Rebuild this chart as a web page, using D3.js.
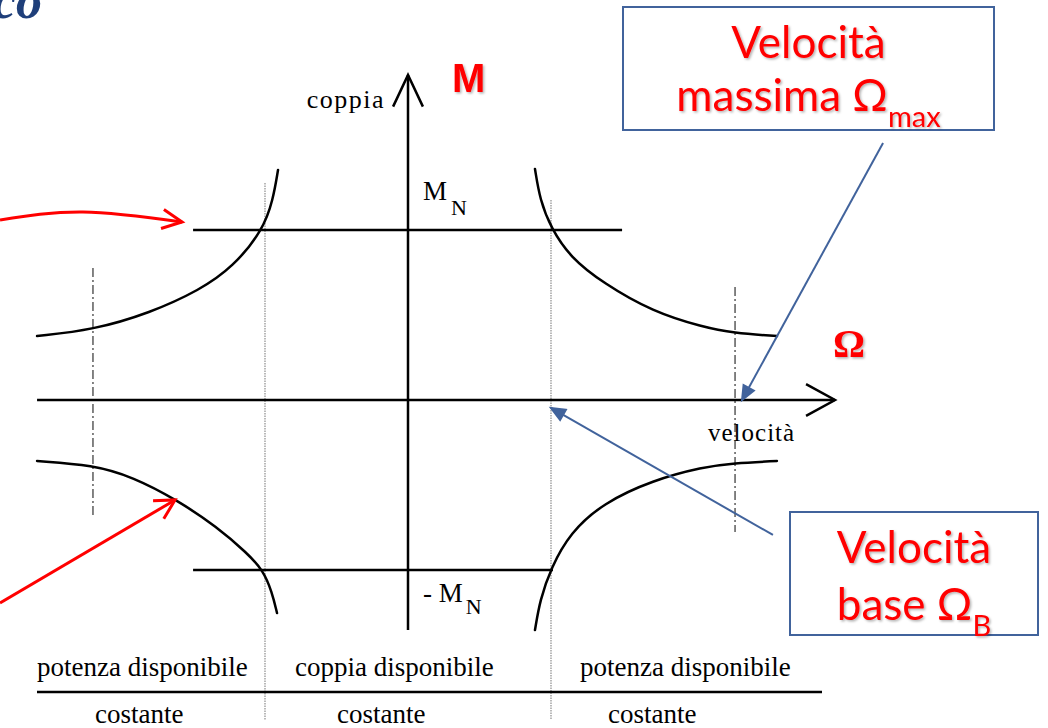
<!DOCTYPE html>
<html>
<head>
<meta charset="utf-8">
<script src="https://cdn.jsdelivr.net/npm/d3@7"></script>
<style>
  html, body { margin: 0; padding: 0; background: #fff; }
  svg { display: block; }
</style>
</head>
<body>
<svg id="chart" width="1048" height="728"></svg>
<script>
// speed (Omega) in units of the base speed, torque (M) in units of M_N
const curveUpperRight = [[0.888, 1.359], [0.923, 1.176], [1.0, 1.012], [1.133, 0.841], [1.364, 0.688], [1.713, 0.518], [2.063, 0.429], [2.273, 0.394], [2.58, 0.376]];
const curveUpperLeft = [[-2.594, 0.376], [-2.203, 0.412], [-1.804, 0.512], [-1.455, 0.647], [-1.224, 0.782], [-1.014, 1.0], [-0.944, 1.176], [-0.909, 1.353]];
const curveLowerLeft = [[-2.594, -0.359], [-2.203, -0.382], [-1.923, -0.453], [-1.615, -0.588], [-1.336, -0.747], [-1.126, -0.9], [-1.014, -1.0], [-0.951, -1.129], [-0.916, -1.253]];
const curveLowerRight = [[0.888, -1.353], [0.923, -1.176], [1.0, -0.988], [1.133, -0.782], [1.364, -0.606], [1.713, -0.471], [2.063, -0.394], [2.273, -0.371], [2.58, -0.359]];

const ratedTorque = [1, -1];
const ratedSpanPos = [-1.503, 1.497];
const ratedSpanNeg = [-1.503, 1.014];

const omegaAxis = [-2.594, 2.986];
const torqueAxis = [-1.353, 1.912];

const baseSpeeds = [-1, 1];
const baseSpans = [[1.276, -1.882], [1.176, -1.882]];
const maxSpeeds = [-2.203, 2.287];
const maxSpans = [[0.776, -0.676], [0.665, -0.776]];

const redArrowTop = [[-2.853, 1.059], [-2.273, 1.106], [-1.58, 1.047]];
const redArrowBottom = [[-2.853, -1.194], [-1.629, -0.588]];
const blueArrowMax = [[3.322, 1.512], [2.336, 0]];
const blueArrowBase = [[2.552, -0.794], [1.0, -0.047]];

const regionTop = ["potenza disponibile", "coppia disponibile", "potenza disponibile"];
const regionBottom = ["costante", "costante", "costante"];
const boxMax = ["Velocità", "massima Ω", "max"];
const boxBase = ["Velocità", "base Ω", "B"];

const svg = d3.select("#chart");
svg.append("rect").attr("width", 1048).attr("height", 728).attr("fill", "#fff");

const defs = svg.append("defs");
defs.append("filter").attr("id", "shadow")
  .attr("x", "-10%").attr("y", "-10%").attr("width", "130%").attr("height", "130%")
  .append("feDropShadow")
  .attr("dx", 1.5).attr("dy", 1.5).attr("stdDeviation", 1.2)
  .attr("flood-color", "#000").attr("flood-opacity", 0.3);

const x = d3.scaleLinear().domain([0, 1]).range([408, 551]);
const y = d3.scaleLinear().domain([0, 1]).range([400, 230]);

const serif = "'Liberation Serif', 'Times New Roman', serif";
const blue = "#41639c";
const red = "#ff0000";

// partial title, cut by the top left corner (as in the slide)
svg.append("text")
  .attr("x", 42).attr("y", 18)
  .attr("text-anchor", "end")
  .attr("font-family", serif)
  .attr("font-weight", "bold").attr("font-style", "italic")
  .attr("font-size", 52).attr("fill", "#1f3f7a")
  .text("co");

// base speed lines (dotted) and max speed lines (dash-dot)
baseSpeeds.forEach((w, i) => {
  svg.append("line")
    .attr("x1", x(w)).attr("x2", x(w))
    .attr("y1", y(baseSpans[i][0])).attr("y2", y(baseSpans[i][1]))
    .attr("stroke", "#8c8c8c").attr("stroke-width", 1.2)
    .attr("stroke-dasharray", "1.5,1");
});
maxSpeeds.forEach((w, i) => {
  svg.append("line")
    .attr("x1", x(w)).attr("x2", x(w))
    .attr("y1", y(maxSpans[i][0])).attr("y2", y(maxSpans[i][1]))
    .attr("stroke", "#333").attr("stroke-width", 1.2)
    .attr("stroke-dasharray", "9,3,2,3");
});

// axes
svg.append("line")
  .attr("x1", x(omegaAxis[0])).attr("x2", x(omegaAxis[1]))
  .attr("y1", y(0)).attr("y2", y(0))
  .attr("stroke", "#000").attr("stroke-width", 2.5);
svg.append("line")
  .attr("x1", x(0)).attr("x2", x(0))
  .attr("y1", y(torqueAxis[0])).attr("y2", y(torqueAxis[1]))
  .attr("stroke", "#000").attr("stroke-width", 2.5);

function head(tip, angle, len, spread, color, width, filled) {
  const a1 = angle + Math.PI - spread, a2 = angle + Math.PI + spread;
  const p1 = [tip[0] + len * Math.cos(a1), tip[1] + len * Math.sin(a1)];
  const p2 = [tip[0] + len * Math.cos(a2), tip[1] + len * Math.sin(a2)];
  return svg.append("path")
    .attr("d", `M${p1}L${tip}L${p2}` + (filled ? "Z" : ""))
    .attr("stroke", color).attr("stroke-width", width)
    .attr("stroke-linejoin", "miter")
    .attr("fill", filled ? color : "none");
}

head([x(omegaAxis[1]), y(0)], 0, 33, 0.5, "#000", 2.5, false);
head([x(0), y(torqueAxis[1])], -Math.PI / 2, 35, 0.44, "#000", 2.5, false);

// rated torque lines
ratedTorque.forEach((m, i) => {
  const span = i === 0 ? ratedSpanPos : ratedSpanNeg;
  svg.append("line")
    .attr("x1", x(span[0])).attr("x2", x(span[1]))
    .attr("y1", y(m)).attr("y2", y(m))
    .attr("stroke", "#000").attr("stroke-width", 2.5);
});

// constant power curves
const curveLine = d3.line()
  .x((d) => x(d[0]))
  .y((d) => y(d[1]))
  .curve(d3.curveBasis);

[curveUpperRight, curveUpperLeft, curveLowerLeft, curveLowerRight].forEach((c) => {
  svg.append("path")
    .attr("d", curveLine(c))
    .attr("fill", "none")
    .attr("stroke", "#000").attr("stroke-width", 2.5)
    .attr("stroke-linecap", "round");
});

// annotation arrows
function arrow(pts, color, width, filled, len, spread) {
  svg.append("path")
    .attr("d", d3.line().x((d) => x(d[0])).y((d) => y(d[1])).curve(d3.curveNatural)(pts))
    .attr("fill", "none")
    .attr("stroke", color).attr("stroke-width", width);
  const a = pts[pts.length - 2], b = pts[pts.length - 1];
  const ang = Math.atan2(y(b[1]) - y(a[1]), x(b[0]) - x(a[0]));
  head([x(b[0]), y(b[1])], ang + (pts.length > 2 ? 0.05 : 0), len, spread, color, width, filled);
}
arrow(redArrowTop, red, 3, false, 22, 0.45);
arrow(redArrowBottom, red, 3, false, 22, 0.5);
arrow(blueArrowMax, blue, 2, true, 15, 0.4);
arrow(blueArrowBase, blue, 2, true, 15, 0.4);

// axis labels
svg.append("text")
  .attr("x", 385).attr("y", 108)
  .attr("text-anchor", "end")
  .attr("font-family", serif).attr("font-size", 26)
  .attr("letter-spacing", 1.5)
  .text("coppia");
svg.append("text")
  .attr("x", 708).attr("y", 441)
  .attr("font-family", serif).attr("font-size", 25)
  .attr("letter-spacing", 1)
  .text("velocità");

svg.append("text")
  .attr("x", 452).attr("y", 92)
  .attr("font-family", "'Liberation Sans', Arial, sans-serif")
  .attr("font-weight", "bold").attr("font-size", 40)
  .attr("fill", red).attr("filter", "url(#shadow)")
  .text("M");
svg.append("text")
  .attr("x", 833).attr("y", 357)
  .attr("font-family", serif)
  .attr("font-weight", "bold").attr("font-size", 40)
  .attr("fill", red).attr("filter", "url(#shadow)")
  .text("Ω");

const mnTop = svg.append("text")
  .attr("x", 423).attr("y", 200)
  .attr("font-family", serif).attr("font-size", 27)
  .text("M");
mnTop.append("tspan").attr("dx", 4).attr("dy", 15).attr("font-size", 22).text("N");

const mnBot = svg.append("text")
  .attr("x", 423).attr("y", 602)
  .attr("font-family", serif).attr("font-size", 27)
  .attr("xml:space", "preserve")
  .text("- M");
mnBot.append("tspan").attr("dx", 3).attr("dy", 12).attr("font-size", 22).text("N");

// region table at the bottom
const topX = [37, 295, 580];
const botX = [95, 337, 608];
regionTop.forEach((t, i) => {
  svg.append("text")
    .attr("x", topX[i]).attr("y", 676)
    .attr("font-family", serif).attr("font-size", 27)
    .text(t);
});
regionBottom.forEach((t, i) => {
  svg.append("text")
    .attr("x", botX[i]).attr("y", 723)
    .attr("font-family", serif).attr("font-size", 27)
    .text(t);
});
svg.append("line")
  .attr("x1", 37).attr("x2", 822)
  .attr("y1", 692).attr("y2", 692)
  .attr("stroke", "#000").attr("stroke-width", 2.5);

// callout boxes
function callout(bx, by, bw, bh, lines, base1, base2) {
  svg.append("rect")
    .attr("x", bx).attr("y", by).attr("width", bw).attr("height", bh)
    .attr("fill", "#fff").attr("stroke", blue).attr("stroke-width", 2);
  const cx = bx + bw / 2;
  svg.append("text")
    .attr("x", cx).attr("y", by + base1)
    .attr("text-anchor", "middle")
    .attr("font-family", "Lato, 'Open Sans', sans-serif").attr("font-size", 44)
    .attr("fill", red).attr("filter", "url(#shadow)")
    .text(lines[0]);
  const t2 = svg.append("text")
    .attr("x", cx).attr("y", by + base2)
    .attr("text-anchor", "middle")
    .attr("font-family", "Lato, 'Open Sans', sans-serif").attr("font-size", 44)
    .attr("fill", red).attr("filter", "url(#shadow)");
  t2.append("tspan").text(lines[1]);
  t2.append("tspan").attr("dy", 16).attr("font-size", 29).text(lines[2]);
}
callout(623, 7, 371, 123, boxMax, 51, 104);
callout(790, 512, 248, 123, boxBase, 51, 108);
</script>
</body>
</html>
